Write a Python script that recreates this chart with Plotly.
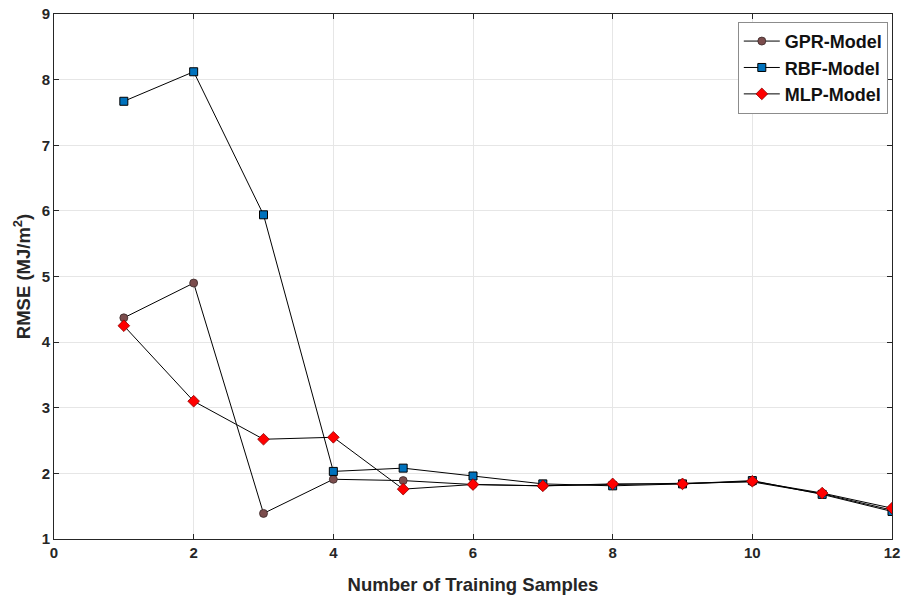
import plotly.graph_objects as go

x_vals = [1, 2, 3, 4, 5, 6, 7, 8, 9, 10, 11, 12]
gpr_rmse = [4.37, 4.90, 1.39, 1.91, 1.89, 1.83, 1.81, 1.83, 1.84, 1.87, 1.69, 1.44]
rbf_rmse = [7.67, 8.12, 5.94, 2.03, 2.08, 1.96, 1.84, 1.81, 1.84, 1.89, 1.68, 1.42]
mlp_rmse = [4.25, 3.10, 2.52, 2.55, 1.76, 1.83, 1.81, 1.84, 1.84, 1.88, 1.70, 1.47]
x_ticks = [0, 2, 4, 6, 8, 10, 12]
y_ticks = [1, 2, 3, 4, 5, 6, 7, 8, 9]

font_fam = "Liberation Sans, Arial, sans-serif"

fig = go.Figure()
fig.add_trace(go.Scatter(x=x_vals, y=gpr_rmse, mode="lines+markers", name="<b>GPR-Model</b>",
                         line=dict(color="black", width=1),
                         marker=dict(symbol="circle", size=8, color="#7B4D4D",
                                     line=dict(color="#3a2a2a", width=0.8))))
fig.add_trace(go.Scatter(x=x_vals, y=rbf_rmse, mode="lines+markers", name="<b>RBF-Model</b>",
                         line=dict(color="black", width=1),
                         marker=dict(symbol="square", size=8, color="#0072BD",
                                     line=dict(color="black", width=1))))
fig.add_trace(go.Scatter(x=x_vals, y=mlp_rmse, mode="lines+markers", name="<b>MLP-Model</b>",
                         line=dict(color="black", width=1),
                         marker=dict(symbol="diamond", size=9, color="#FF0000",
                                     line=dict(color="#8b0000", width=0.8))))

axis_common = dict(showline=True, linecolor="#262626", linewidth=1, mirror="ticks",
                   ticks="inside", ticklen=5, tickcolor="#262626", automargin=False,
                   ticklabeloverflow="allow",
                   showgrid=True, gridcolor="#e6e6e6", gridwidth=1, zeroline=False,
                   tickfont=dict(family=font_fam, size=15, color="#262626"))

fig.update_layout(
    width=902, height=598,
    margin=dict(l=54, r=10, t=14, b=59),
    paper_bgcolor="white", plot_bgcolor="white",
    font=dict(family=font_fam, color="#262626"),
    xaxis=dict(range=[0, 12], tickvals=x_ticks,
               ticktext=[f"<b>{v}</b>" for v in x_ticks],
               title=dict(text="<b>Number of Training Samples</b>",
                          font=dict(family=font_fam, size=18.5, color="#262626"), standoff=18),
               **axis_common),
    yaxis=dict(range=[1, 9], tickvals=y_ticks,
               ticktext=[f"<b>{v}</b>" for v in y_ticks],
               title=dict(text="<b>RMSE (MJ/m<sup>2</sup>)</b>",
                          font=dict(family=font_fam, size=18.5, color="#262626"), standoff=6),
               **axis_common),
    legend=dict(x=0.995, y=0.985, xanchor="right", yanchor="top",
                bgcolor="white", bordercolor="#8c8c8c", borderwidth=1,
                font=dict(family=font_fam, size=18, color="#111111"),
                itemwidth=36, tracegroupgap=0),
    showlegend=True,
)

page_css = ("document.body.style.margin='0';"
            "document.body.style.overflow='hidden';"
            "document.documentElement.style.overflow='hidden';")
fig.write_html("out.html", post_script=page_css, config={"displayModeBar": False})
